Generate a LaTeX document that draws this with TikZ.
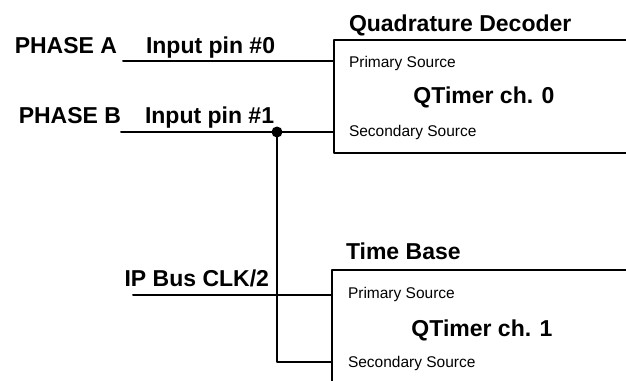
\documentclass[tikz,border=0pt]{standalone}
\usepackage{fontspec}
\setmainfont{Liberation Sans}
\usetikzlibrary{positioning}

\tikzset{
  big/.style={font=\fontsize{23}{26}\selectfont\bfseries, inner sep=0pt},
  small/.style={font=\fontsize{15.5}{18}\selectfont, inner sep=0pt},
  qbox/.style={draw, line width=2.2pt, inner sep=0pt},
}

\begin{document}
\begin{tikzpicture}[line cap=round,line join=round,x=1pt,y=-1pt,line width=2pt]
\useasboundingbox (0,0) rectangle (626,380);

\node[qbox, minimum width=306pt, minimum height=113pt] (dec) at (487,96.5) {};
\node[qbox, minimum width=310pt, minimum height=140pt] (tb) at (487,340) {};

\node[big, anchor=base west] (decT) at (348,31) {Quadrature Decoder};
\node[big, anchor=base west] (tbT) at (345,259) {Time Base};
\node[big, anchor=base] (qt0) at (484,103) {QTimer ch. 0};
\node[big, anchor=base] (qt1) at (482,336) {QTimer ch. 1};

\begin{scope}[every node/.style={small, anchor=base west}]
\node (prim0) at (348,67) {Primary Source};
\node (sec0) at (348,136) {Secondary Source};
\node (prim1) at (347,298) {Primary Source};
\node (sec1) at (347,367) {Secondary Source};
\end{scope}

\node[big, anchor=base east] (phA) at (118,53) {PHASE A};
\node[big, anchor=base west] (pin0) at (145,53) {Input pin \#0};
\node[big, anchor=base east] (phB) at (122,123) {PHASE B};
\node[big, anchor=base west] (pin1) at (144,123) {Input pin \#1};
\node[big, anchor=base east] (clk) at (270,286) {IP Bus CLK/2};

\coordinate (a0) at (123,61);
\coordinate (b0) at (121,132);
\coordinate (c0) at (133,295);
\coordinate (jn) at (277,132);

\draw (a0) -- (a0 -| dec.west);
\draw (b0) -- (b0 -| dec.west);
\draw (c0) -- (c0 -| tb.west);
\draw (jn) |- (tb.west |- 0,362);
\fill (jn) circle (5.5pt);
\end{tikzpicture}
\end{document}
